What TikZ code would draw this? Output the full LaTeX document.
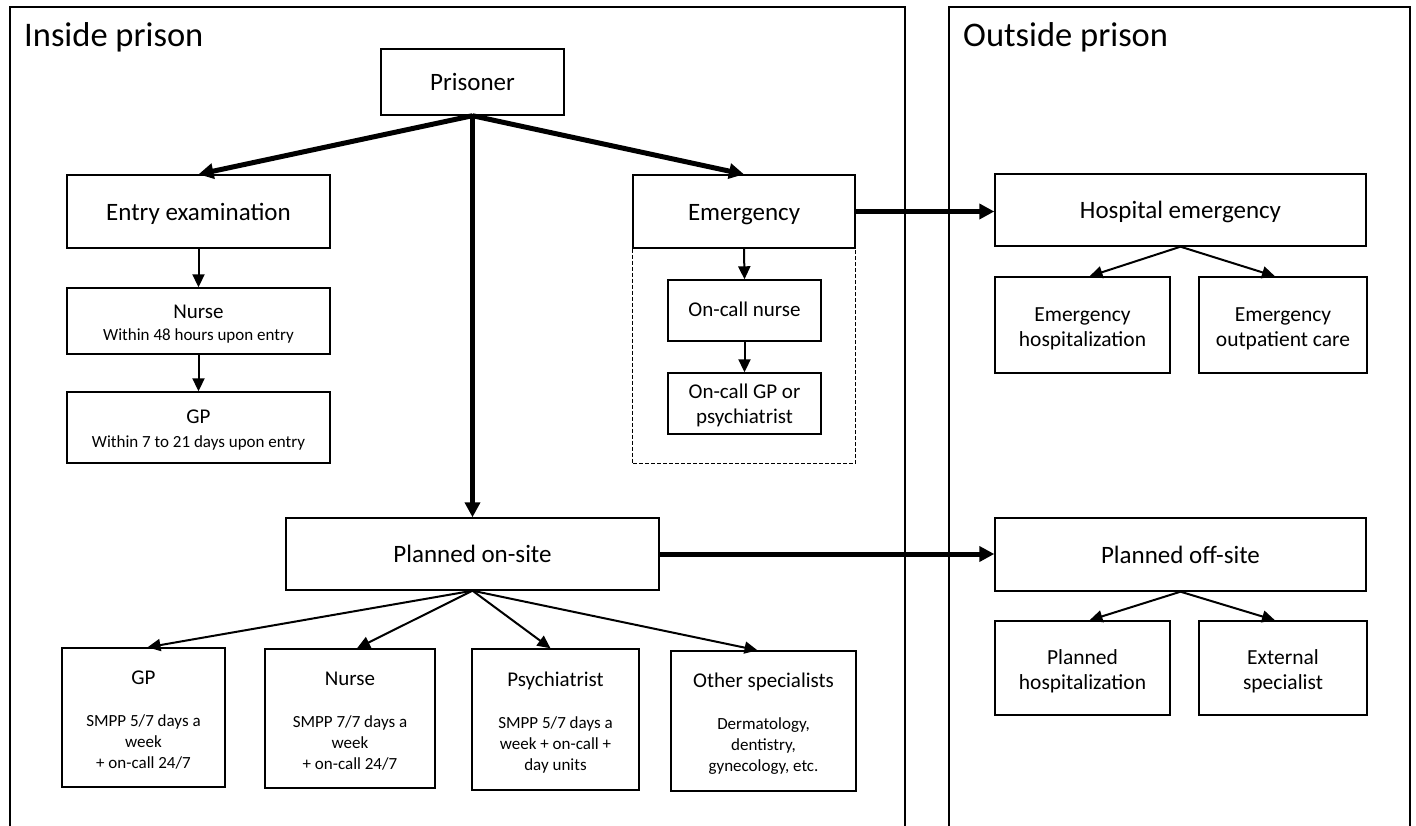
\documentclass[tikz,border=0pt]{standalone}
\usepackage{fontspec}
\setmainfont{Carlito}
\usetikzlibrary{arrows.meta}
\newcommand\fsz[2]{\fontsize{#1}{#2}\selectfont}
\begin{document}
\begin{tikzpicture}[x=1pt,y=-1pt,
  box/.style={draw, line width=1.4pt, inner sep=0pt, align=center, font=\fsz{25}{30}, text height=17.4pt, text depth=0pt},
  emptybox/.style={draw, line width=1.4pt, inner sep=0pt},
  txt/.style={align=center, inner sep=0pt},
  subtxt/.style={txt, font=\fsz{17}{21}},
  midtxt/.style={txt, font=\fsz{21.5}{25}},
  thickarr/.style={line width=5pt, -{Triangle[length=15pt,width=15pt]}},
  thinarr/.style={line width=2pt, -{Triangle[length=13pt,width=12pt]}},
  frame/.style={line width=1.5pt},
  dashbox/.style={line width=1.3pt, dash pattern=on 4pt off 2pt},
  title/.style={anchor=base west, inner sep=0pt, font=\fsz{34.5}{40}},
]
\useasboundingbox (0,0) rectangle (1416,826);

% frames
\draw[frame] (10,826) -- (10,7) -- (905,7) -- (905,826);
\draw[frame] (949,826) -- (949,7) -- (1410,7) -- (1410,826);
\node[title] (tin) at (24,47) {Inside prison};
\node[title] (tout) at (963,47) {Outside prison};

% inside
\node[box, minimum width=183pt, minimum height=66pt] (pris) at (472.5,82) {Prisoner};
\node[box, minimum width=263pt, minimum height=73pt] (entry) at (198.5,211.5) {Entry examination};
\node[emptybox, minimum width=263pt, minimum height=66pt] (enurse) at (198.5,321) {};
\node[subtxt] (enurse-t) at ([yshift=-3pt]enurse.center)
  {{\fsz{21}{25}Nurse}\\[1pt]Within 48 hours upon entry};
\node[emptybox, minimum width=263pt, minimum height=71pt] (egp) at (198.5,427.5) {};
\node[subtxt] (egp-t) at ([yshift=-3pt]egp.center)
  {{\fsz{21}{25}GP}\\[3pt]Within 7 to 21 days upon entry};

\node[box, minimum width=222pt, minimum height=73pt] (emerg) at (744,211.5) {Emergency};
\draw[dashbox] (emerg.south west) -- ++(0,215) -| (emerg.south east);
\node[box, font=\fsz{21}{25}, text height=12.4pt, minimum width=153pt, minimum height=61pt] (oncn) at (744.5,310.5) {On-call nurse};
\node[emptybox, minimum width=153pt, minimum height=61pt] (oncgp) at (744.5,403.5) {};
\node[txt, font=\fsz{21}{25}] (oncgp-t) at ([yshift=-2pt]oncgp.center) {On-call GP or\\psychiatrist};

\node[box, minimum width=373pt, minimum height=72pt] (pon) at (472.5,554) {Planned on-site};

\node[emptybox, minimum width=163pt, minimum height=139pt] (bgp) at (143.5,717.5) {};
\node[subtxt] (bgp-t) at ([yshift=-3pt]bgp.center)
  {{\fsz{21}{25}GP}\\[21pt]SMPP 5/7 days a\\week\\+ on-call 24/7};
\node[emptybox, minimum width=170pt, minimum height=139pt] (bnur) at (350,718.5) {};
\node[subtxt] (bnur-t) at ([yshift=-3pt]bnur.center)
  {{\fsz{21}{25}Nurse}\\[21pt]SMPP 7/7 days a\\week\\+ on-call 24/7};
\node[emptybox, minimum width=167pt, minimum height=141pt] (bpsy) at (555.5,719.5) {};
\node[subtxt] (bpsy-t) at ([yshift=-3pt]bpsy.center)
  {{\fsz{21}{25}Psychiatrist}\\[21pt]SMPP 5/7 days a\\week + on-call +\\day units};
\node[emptybox, minimum width=185pt, minimum height=140pt] (both) at (763.5,721) {};
\node[subtxt] (both-t) at ([yshift=-3pt]both.center)
  {{\fsz{21}{25}Other specialists}\\[21pt]Dermatology,\\dentistry,\\gynecology, etc.};

% outside
\node[box, minimum width=371pt, minimum height=72pt] (hosp) at (1180.5,210) {Hospital emergency};
\node[emptybox, minimum width=175pt, minimum height=96pt] (ehosp) at (1082.5,325) {};
\node[midtxt] (ehosp-t) at ([yshift=-4pt]ehosp.center) {Emergency\\hospitalization};
\node[emptybox, minimum width=168pt, minimum height=96pt] (eout) at (1283,325) {};
\node[midtxt] (eout-t) at ([yshift=-4pt]eout.center) {Emergency\\outpatient care};
\node[box, minimum width=371pt, minimum height=73pt] (poff) at (1180.5,554.5) {Planned off-site};
\node[emptybox, minimum width=175pt, minimum height=94pt] (phosp) at (1082.5,668) {};
\node[midtxt] (phosp-t) at ([yshift=-3pt]phosp.center) {Planned\\hospitalization};
\node[emptybox, minimum width=168pt, minimum height=94pt] (ext) at (1283,668) {};
\node[midtxt] (ext-t) at ([yshift=-3pt]ext.center) {External\\specialist};

% connectors
\draw[thickarr] (pris.south) -- (entry.north);
\draw[thickarr] (pris.south) -- (emerg.north);
\draw[thickarr] (pris.south) -- (pon.north);
\draw[thickarr] (emerg.east) -- (hosp.west |- emerg.east);
\draw[thickarr] (pon.east) -- (poff.west |- pon.east);

\draw[thinarr] (entry.south) -- (enurse.north);
\draw[thinarr] (enurse.south) -- (egp.north);
\draw[thinarr] (emerg.south) -- (oncn.north);
\draw[thinarr] (oncn.south) -- (oncgp.north);

\draw[thinarr] (hosp.south) -- ([xshift=7pt]ehosp.north);
\draw[thinarr] (hosp.south) -- ([xshift=-8pt]eout.north);
\draw[thinarr] (poff.south) -- ([xshift=7pt]phosp.north);
\draw[thinarr] (poff.south) -- ([xshift=-8pt]ext.north);

\draw[thinarr] (pon.south) -- ([xshift=4pt]bgp.north);
\draw[thinarr] (pon.south) -- ([xshift=7pt]bnur.north);
\draw[thinarr] (pon.south) -- ([xshift=-5pt]bpsy.north);
\draw[thinarr] (pon.south) -- ([xshift=-6pt]both.north);
\end{tikzpicture}
\end{document}
